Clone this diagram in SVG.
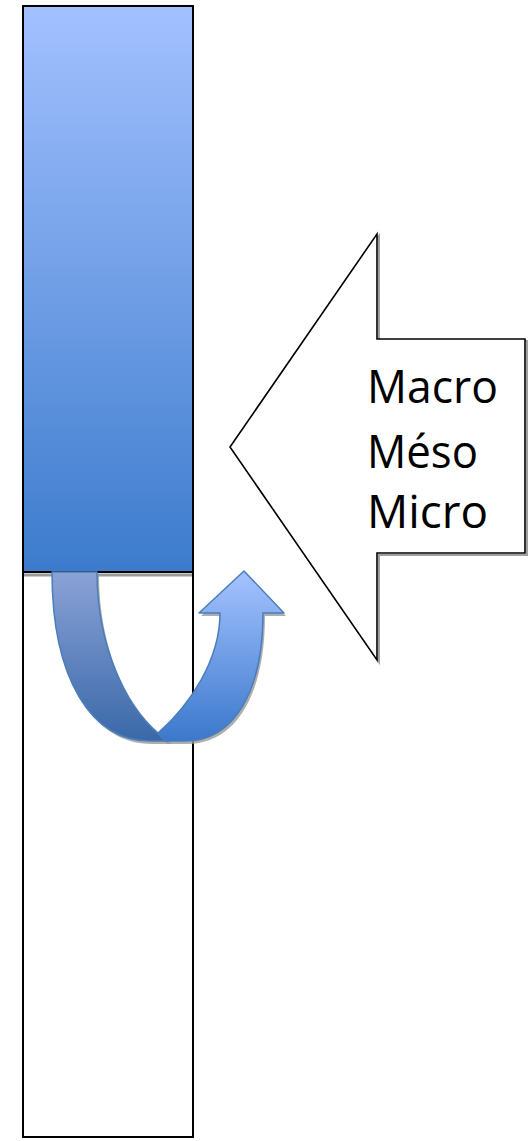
<svg xmlns="http://www.w3.org/2000/svg" width="528" height="1141" viewBox="0 0 528 1141">
<defs>
<linearGradient id="gRect" x1="0" y1="0" x2="0" y2="1">
<stop offset="0" stop-color="#a3c1ff"/>
<stop offset="1" stop-color="#3c7bcc"/>
</linearGradient>
<linearGradient id="gLeft" x1="0" y1="572" x2="0" y2="741" gradientUnits="userSpaceOnUse">
<stop offset="0" stop-color="#8aa2d6"/>
<stop offset="1" stop-color="#3a68a8"/>
</linearGradient>
<linearGradient id="gRight" x1="0" y1="571" x2="0" y2="741" gradientUnits="userSpaceOnUse">
<stop offset="0" stop-color="#a5c3ff"/>
<stop offset="1" stop-color="#3b78cc"/>
</linearGradient>
<style>
.box{stroke:#000;stroke-width:2}
.shadow{fill:none;stroke:#9a9a9a;stroke-width:3}
.band{stroke:#4a7ebb;stroke-width:1.5;stroke-linejoin:round}
.bshadow{fill:#9a9a9a;opacity:.8}
.lbl{font-family:"Open Sans","Liberation Sans",Arial,sans-serif;font-size:46px;fill:#000}
</style>
</defs>
<g id="top-bar">
<rect x="23" y="6" width="170" height="566" fill="url(#gRect)" class="box"/>
</g>
<g id="bottom-bar">
<line x1="23" y1="575" x2="193" y2="575" class="shadow"/>
<rect x="23" y="572" width="170" height="565" fill="none" class="box"/>
</g>
<g id="big-arrow">
<polygon points="232,449 379,236 379,341 527,341 527,555 379,555 379,662" fill="none" stroke="#a0a0a0" stroke-width="2"/>
<polygon points="230,447 377,234 377,339 525,339 525,553 377,553 377,660" fill="#fff" stroke="#000" stroke-width="1.6" stroke-linejoin="miter"/>
<text class="lbl" x="367" y="403" textLength="131" lengthAdjust="spacingAndGlyphs">Macro</text>
<text class="lbl" x="367" y="468" textLength="111" lengthAdjust="spacingAndGlyphs">Méso</text>
<text class="lbl" x="367" y="528" textLength="121" lengthAdjust="spacingAndGlyphs">Micro</text>
</g>
<g id="connectors">
<g transform="translate(2,3)">
<path class="bshadow" d="M52,572 L97,572 C97,645 125,705 158,733 L170,741 L150,741 C92,741 52,680 52,572 Z"/>
<path class="bshadow" d="M158,733 C190,705 220,660 220,613 L199,613 L244,571 L284,613 L263,613 C263,690 235,741 185,741 L165,741 Z"/>
</g>
<path class="band" fill="url(#gLeft)" d="M52,572 L97,572 C97,645 125,705 158,733 L170,741 L150,741 C92,741 52,680 52,572 Z"/>
<path class="band" fill="url(#gRight)" d="M158,733 C190,705 220,660 220,613 L199,613 L244,571 L284,613 L263,613 C263,690 235,741 185,741 L165,741 Z"/>
</g>
</svg>
